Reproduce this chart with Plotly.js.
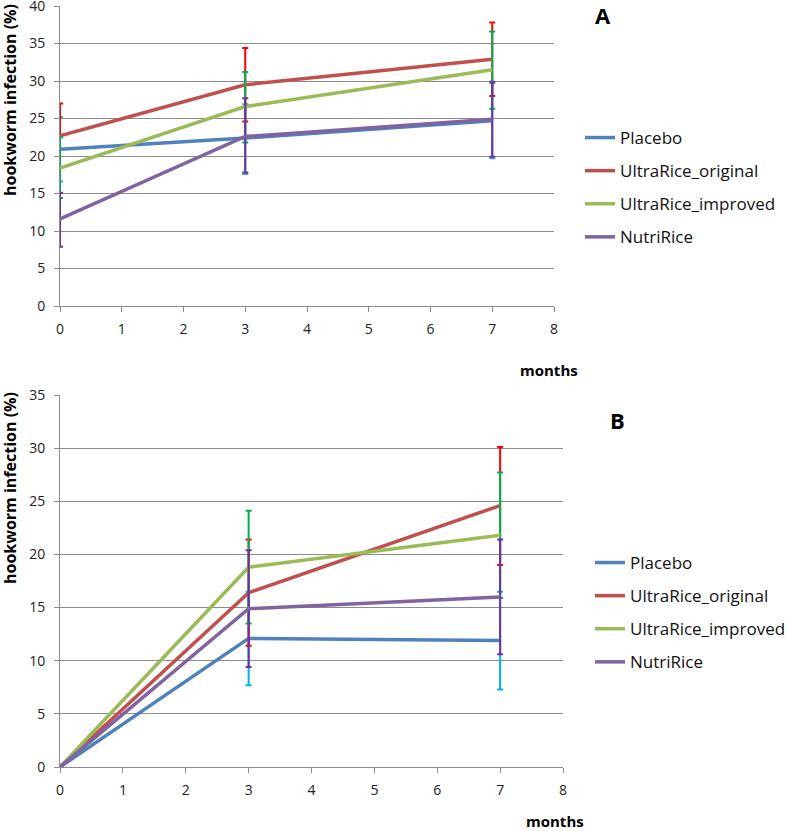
<!DOCTYPE html>
<html>
<head>
<meta charset="utf-8">
<script src="https://cdn.plot.ly/plotly-3.0.1.min.js"></script>
<style>
  body { margin: 0; background: #ffffff; }
  #chart { width: 786px; height: 831px; }
</style>
</head>
<body>
<div id="chart"></div>
<script>
// months of follow-up
var months = [0, 3, 7];
var series_names = ['Placebo', 'UltraRice_original', 'UltraRice_improved', 'NutriRice'];

// panel A: hookworm infection (%) with error bars (plus / minus)
var placebo_a = [20.9, 22.4, 24.7];
var placebo_a_plus = [4.3, 4.5, 5.0];
var placebo_a_minus = [4.3, 4.8, 5.0];
var original_a = [22.7, 29.5, 32.9];
var original_a_plus = [4.3, 4.9, 4.9];
var original_a_minus = [4.3, 4.9, 4.9];
var improved_a = [18.4, 26.6, 31.5];
var improved_a_plus = [4.1, 4.6, 5.1];
var improved_a_minus = [4.0, 4.8, 5.2];
var nutri_a = [11.6, 22.6, 24.9];
var nutri_a_plus = [3.5, 5.1, 5.0];
var nutri_a_minus = [3.7, 4.8, 5.0];

// panel B: new infections (%) with error bars, none at baseline
var placebo_b = [0, 12.1, 11.9];
var placebo_b_plus = [null, 4.4, 4.6];
var placebo_b_minus = [null, 4.4, 4.6];
var original_b = [0, 16.4, 24.6];
var original_b_plus = [null, 5.0, 5.5];
var original_b_minus = [null, 5.0, 5.6];
var improved_b = [0, 18.8, 21.8];
var improved_b_plus = [null, 5.3, 5.9];
var improved_b_minus = [null, 5.3, 5.9];
var nutri_b = [0, 14.9, 16.0];
var nutri_b_plus = [null, 5.5, 5.4];
var nutri_b_minus = [null, 5.5, 5.4];

var line_colors = ['#4F81BD', '#C0504D', '#9BBB59', '#8064A2'];
var err_colors_a = ['#3E9BE0', '#FF0000', '#00B050', '#7030A0'];
var err_colors_b = ['#00B0F0', '#FF0000', '#00B050', '#7030A0'];

var W = 786, H = 831;
function px(x) { return x / W; }
function py(y) { return 1 - y / H; }

var font_family = 'Open Sans, Noto Sans, sans-serif';
var grid_color = '#8C8C8C';

var vals_a = [placebo_a, original_a, improved_a, nutri_a];
var plus_a = [placebo_a_plus, original_a_plus, improved_a_plus, nutri_a_plus];
var minus_a = [placebo_a_minus, original_a_minus, improved_a_minus, nutri_a_minus];
var vals_b = [placebo_b, original_b, improved_b, nutri_b];
var plus_b = [placebo_b_plus, original_b_plus, improved_b_plus, nutri_b_plus];
var minus_b = [placebo_b_minus, original_b_minus, improved_b_minus, nutri_b_minus];

var data = [];
for (let i = 0; i < series_names.length; i++) {
    data.push({
	name : series_names[i],
	type : 'scatter',
	mode : 'lines',
	x : months,
	y : vals_a[i],
	xaxis : 'x',
	yaxis : 'y',
	legend : 'legend',
	legendgroup : 'a' + i,
	line : { color : line_colors[i], width : 3.5 },
	error_y : { type : 'data', symmetric : false, array : plus_a[i], arrayminus : minus_a[i],
		    color : err_colors_a[i], thickness : 2, width : 3 }
    });
}
for (let i = 0; i < series_names.length; i++) {
    data.push({
	name : series_names[i],
	type : 'scatter',
	mode : 'lines',
	x : months,
	y : vals_b[i],
	xaxis : 'x2',
	yaxis : 'y2',
	legend : 'legend2',
	legendgroup : 'b' + i,
	line : { color : line_colors[i], width : 3.5 },
	error_y : { type : 'data', symmetric : false, array : plus_b[i], arrayminus : minus_b[i],
		    color : err_colors_b[i], thickness : 2, width : 3 }
    });
}

function x_axis(domain, anchor) {
    return { domain : domain, anchor : anchor, range : [0, 8], tickmode : 'linear', tick0 : 0, dtick : 1,
	     ticks : 'outside', ticklen : 5, tickcolor : grid_color, showgrid : false, zeroline : false,
	     showline : true, linecolor : grid_color, linewidth : 1, fixedrange : true, ticklabelstandoff : 5,
	     automargin : false, ticklabeloverflow : 'allow',
	     tickfont : { family : font_family, size : 14, color : '#222222' } };
}
function y_axis(domain, anchor, top) {
    return { domain : domain, anchor : anchor, range : [0, top], tickmode : 'linear', tick0 : 0, dtick : 5,
	     ticks : 'outside', ticklen : 5, tickcolor : grid_color, showgrid : true, gridcolor : grid_color,
	     gridwidth : 1, zeroline : false, showline : true, linecolor : grid_color, linewidth : 1,
	     fixedrange : true, ticklabelstandoff : 6, automargin : false, ticklabeloverflow : 'allow',
	     tickfont : { family : font_family, size : 14, color : '#222222' } };
}

function legend_at(left, top) {
    return { x : px(left), y : py(top), xanchor : 'left', yanchor : 'top', traceorder : 'grouped',
	     tracegroupgap : 8, bgcolor : 'rgba(0,0,0,0)', itemwidth : 30,
	     font : { family : font_family, size : 17, color : '#111111' } };
}

var annotations = [
    { text : '<b>A</b>', x : px(603), y : py(15), font : { size : 22 } },
    { text : '<b>B</b>', x : px(617), y : py(420), font : { size : 22 } },
    { text : '<b>months</b>', x : px(549), y : py(370), font : { size : 15 } },
    { text : '<b>months</b>', x : px(555), y : py(821), font : { size : 15 } },
    { text : '<b>hookworm infection (%)</b>', x : px(10), y : py(100), textangle : -90, font : { size : 16 } },
    { text : '<b>hookworm infection (%)</b>', x : px(10), y : py(488), textangle : -90, font : { size : 16 } }
];
for (let i = 0; i < annotations.length; i++) {
    annotations[i].xref = 'paper';
    annotations[i].yref = 'paper';
    annotations[i].showarrow = false;
    annotations[i].xanchor = 'center';
    annotations[i].yanchor = 'middle';
    annotations[i].font.family = font_family;
    annotations[i].font.color = '#000000';
}

var layout = {
    width : W, height : H,
    margin : { l : 0, r : 0, t : 0, b : 0, autoexpand : false },
    paper_bgcolor : '#ffffff',
    plot_bgcolor : '#ffffff',
    showlegend : true,
    xaxis : x_axis([px(60), px(554)], 'y'),
    yaxis : y_axis([py(306), py(6)], 'x', 40),
    xaxis2 : x_axis([px(60), px(563)], 'y2'),
    yaxis2 : y_axis([py(767), py(395)], 'x2', 35),
    legend : legend_at(580, 120),
    legend2 : legend_at(590, 545),
    annotations : annotations
};

Plotly.newPlot('chart', data, layout, { displayModeBar : false, staticPlot : true });
</script>
</body>
</html>
